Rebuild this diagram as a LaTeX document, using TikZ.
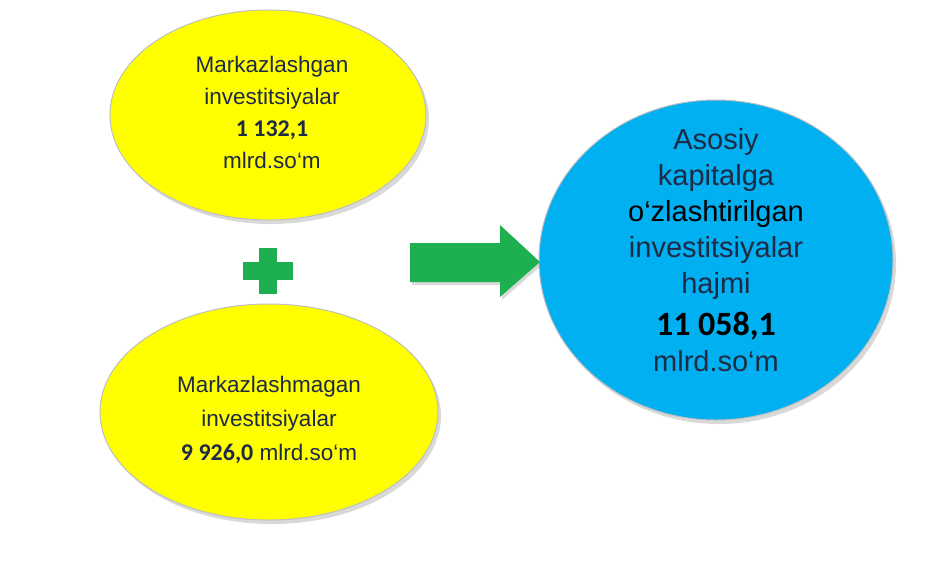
\documentclass[tikz,border=0pt]{standalone}
\usepackage{fontspec}
\setmainfont{Liberation Sans}
\newfontfamily\numfont{Carlito}
\usetikzlibrary{shadows}
\definecolor{yel}{HTML}{FFFF00}
\definecolor{blu}{HTML}{00B0F0}
\definecolor{grn}{HTML}{1EB050}
\definecolor{txt}{HTML}{1F2A44}
\begin{document}
\begin{tikzpicture}[x=1pt,y=-1pt,
  ellfill/.style={draw=white!75!black,line width=1pt,drop shadow={shadow xshift=3pt,shadow yshift=-4pt,opacity=0.3}},
  lbl/.style={align=center,text=txt}]
\useasboundingbox (0,0) rectangle (937,574);
\fill[yel,ellfill] (268,115) ellipse [x radius=158,y radius=105];
\fill[yel,ellfill] (269,412) ellipse [x radius=169,y radius=108];
\fill[blu,ellfill] (716,260) ellipse [x radius=177,y radius=160];
\node[lbl,font=\fontsize{22.5}{32}\selectfont] (t1) at (272,112) {Markazlashgan\\investitsiyalar\\{\numfont\bfseries\fontsize{24}{32}\selectfont 1 132,1}\\mlrd.so‘m};
\node[lbl,font=\fontsize{22.5}{34}\selectfont] (t2) at (269,420) {Markazlashmagan\\investitsiyalar\\{\numfont\bfseries\fontsize{24}{32}\selectfont 9 926,0} mlrd.so‘m};
\node[lbl,font=\fontsize{29}{36}\selectfont] (t3) at (716,250) {Asosiy\\kapitalga\\{\color{black}o‘zlashtirilgan}\\investitsiyalar\\hajmi\\[6pt]{\color{black}\numfont\bfseries\fontsize{34}{36}\selectfont 11 058,1}\\mlrd.so‘m};
\fill[grn] (243,262) rectangle (293,280);
\fill[grn] (259,248) rectangle (277,294);
\fill[grn,drop shadow={shadow xshift=2pt,shadow yshift=-3pt,opacity=0.3}] (410,243) -- (500,243) -- (500,225) -- (540,262) -- (500,297) -- (500,282) -- (410,282) -- cycle;
\end{tikzpicture}
\end{document}
